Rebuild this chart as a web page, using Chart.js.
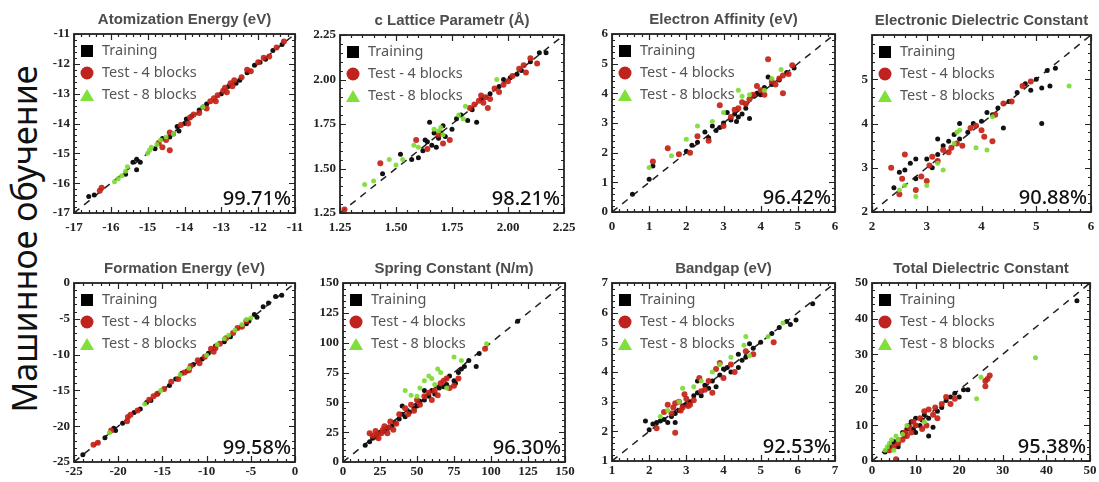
<!DOCTYPE html>
<html lang="ru">
<head>
<meta charset="utf-8">
<title>Машинное обучение</title>
<script src="https://cdn.jsdelivr.net/npm/chart.js@4.4.1/dist/chart.umd.min.js"></script>
<style>
  html, body { margin: 0; padding: 0; background: #fff; }
  body { position: relative; width: 1099px; height: 482px; overflow: hidden; }
  canvas { position: absolute; }
  #side-label {
    position: absolute; left: 24px; top: 239px;
    transform: translate(-50%, -50%) rotate(-90deg);
    font: 34px "Noto Sans", sans-serif; color: #111; white-space: nowrap; line-height: 1;
  }
</style>
</head>
<body>
<div id="side-label">Машинное обучение</div>

<script>
// ---- panel meta ----
const titles = ['Atomization Energy (eV)', 'c Lattice Parametr (Å)', 'Electron Affinity (eV)', 'Electronic Dielectric Constant',
                'Formation Energy (eV)', 'Spring Constant (N/m)', 'Bandgap (eV)', 'Total Dielectric Constant'];
const scores = ['99.71%', '98.21%', '96.42%', '90.88%', '99.58%', '96.30%', '92.53%', '95.38%'];
const axisMin = [-17, 1.25, 0, 2, -25, 0, 1, 0];
const axisMax = [-11, 2.25, 6, 6, 0, 150, 7, 50];
const axisStep = [1, 0.25, 1, 1, 5, 25, 1, 10];
const minorPerMajor = [5, 5, 5, 5, 5, 5, 5, 5];
const seriesNames = ['Training', 'Test - 4 blocks', 'Test - 8 blocks'];

// ---- points [x, y] ----
const atomTrain = [[-16.6,-16.45],[-16.45,-16.4],[-15.4,-15.3],[-15.3,-15.2],[-15.2,-15.3],[-15.3,-15.55],[-15.6,-15.7],[-14.8,-14.85],
  [-14.6,-14.5],[-14.4,-14.45],[-14.2,-14.1],[-14.0,-14.0],[-13.95,-13.85],[-13.8,-13.75],[-13.6,-13.55],[-13.5,-13.45],[-13.4,-13.35],
  [-13.0,-13.0],[-12.8,-12.75],[-12.6,-12.65],[-12.5,-12.55],[-12.3,-12.3],[-12.1,-12.05],[-11.95,-11.95],[-11.8,-11.85],[-11.6,-11.55],
  [-11.35,-11.35],[-14.3,-14.35],[-14.15,-14.25]];
const atomTest4 = [[-16.3,-16.25],[-16.25,-16.15],[-14.7,-14.65],[-14.5,-14.55],[-14.4,-14.3],[-14.1,-14.05],[-13.9,-14.0],[-13.75,-13.7],
  [-13.6,-13.65],[-13.4,-13.5],[-13.3,-13.25],[-13.2,-13.15],[-13.1,-13.05],[-12.95,-12.9],[-12.85,-12.95],[-12.75,-12.65],[-12.65,-12.55],
  [-12.45,-12.45],[-12.3,-12.2],[-12.2,-12.25],[-12.0,-11.95],[-11.85,-11.8],[-11.7,-11.75],[-11.5,-11.45],[-11.3,-11.25],[-14.6,-14.8],
  [-14.4,-14.9],[-13.85,-13.8],[-12.9,-12.8],[-12.7,-12.75],[-13.15,-13.25]];
const atomTest8 = [[-15.9,-15.95],[-15.8,-15.85],[-15.6,-15.6],[-15.7,-15.75],[-15.55,-15.45],[-15.0,-15.0],[-14.95,-14.9],[-14.9,-14.8],
  [-14.75,-14.7],[-14.65,-14.55],[-14.5,-14.45],[-14.3,-14.35],[-13.5,-13.45]];

const latTrain = [[1.44,1.47],[1.52,1.58],[1.57,1.55],[1.60,1.56],[1.62,1.60],[1.63,1.66],[1.64,1.65],[1.65,1.76],[1.66,1.63],[1.68,1.62],
  [1.69,1.67],[1.70,1.70],[1.72,1.68],[1.75,1.72],[1.77,1.78],[1.79,1.80],[1.82,1.77],[1.84,1.83],[1.86,1.76],[1.88,1.89],[1.92,1.92],
  [1.96,1.96],[1.98,2.00],[2.01,2.01],[2.04,2.03],[2.06,2.05],[2.10,2.10],[2.14,2.15],[2.17,2.15],[1.71,1.74],[1.67,1.70]];
const latTest4 = [[1.27,1.27],[1.43,1.53],[1.59,1.66],[1.64,1.61],[1.69,1.69],[1.71,1.64],[1.74,1.66],[1.83,1.84],[1.85,1.86],[1.87,1.88],
  [1.89,1.87],[1.90,1.90],[1.92,1.89],[1.94,1.95],[1.96,1.93],[1.98,1.97],[2.00,1.99],[2.02,2.02],[2.05,2.06],[2.07,2.08],[2.10,2.12],
  [2.13,2.09],[1.91,1.84],[1.88,1.91],[2.08,2.04]];
const latTest8 = [[1.36,1.41],[1.40,1.43],[1.47,1.55],[1.50,1.52],[1.53,1.55],[1.58,1.63],[1.60,1.62],[1.67,1.72],[1.69,1.71],[1.70,1.73],
  [1.78,1.80],[1.80,1.78],[1.81,1.85],[1.95,2.00],[1.71,1.69]];

const eaTrain = [[0.55,0.6],[1.0,1.1],[1.1,1.55],[2.0,2.05],[2.15,2.25],[2.3,2.35],[2.5,2.7],[2.6,2.5],[2.8,2.75],[2.9,2.85],[3.0,3.0],
  [3.2,3.1],[3.3,3.3],[3.4,3.2],[3.5,3.3],[3.6,3.5],[3.7,3.15],[3.8,3.9],[3.9,4.0],[4.0,3.95],[4.1,4.2],[4.2,4.55],[4.3,4.3],[4.5,4.45],
  [4.7,4.7],[4.9,4.85],[3.1,3.35],[2.7,2.9],[3.35,3.05]];
const eaTest4 = [[1.1,1.7],[1.5,2.15],[1.8,1.95],[2.1,2.0],[2.3,2.55],[2.6,2.4],[2.9,3.6],[3.0,2.9],[3.2,3.2],[3.3,3.45],[3.4,3.5],[3.5,3.7],
  [3.6,3.65],[3.7,3.8],[3.8,3.95],[4.0,4.1],[4.1,3.95],[4.2,5.15],[4.3,4.4],[4.4,4.3],[4.5,4.5],[4.6,4.6],[4.75,4.65],[4.85,4.95],[3.9,4.25],[4.6,4.0]];
const eaTest8 = [[1.0,1.5],[1.6,1.9],[2.0,2.45],[2.3,2.9],[2.7,3.05],[3.0,3.35],[3.4,4.1],[3.7,3.95],[4.1,4.1],[4.3,4.5],[4.55,4.8],[3.5,3.9]];

const edcTrain = [[2.4,2.55],[2.5,2.9],[2.6,2.95],[2.7,3.1],[2.8,3.2],[3.0,3.2],[3.1,3.0],[3.2,3.3],[3.3,3.5],[3.4,3.6],[3.5,3.75],[3.6,3.65],
  [3.2,3.65],[3.75,3.8],[3.85,4.0],[4.0,4.05],[4.1,4.25],[4.3,4.35],[4.4,3.9],[4.5,4.5],[4.65,4.7],[4.8,4.9],[4.9,4.75],[5.0,5.0],[5.1,4.8],
  [5.2,5.2],[5.35,5.25],[5.25,4.85],[5.1,4.0],[3.6,4.0],[2.8,2.75],[4.2,4.2]];
const edcTest4 = [[2.35,3.0],[2.5,2.4],[2.6,3.3],[2.55,2.75],[2.8,2.5],[2.9,2.8],[3.0,2.7],[3.05,3.05],[3.2,3.15],[3.3,3.4],[3.4,3.35],
  [3.55,3.55],[3.65,3.5],[3.8,3.9],[3.9,3.95],[4.0,3.85],[4.05,3.7],[4.2,3.6],[4.25,4.2],[4.4,4.45],[4.55,4.5],[4.75,4.85],[4.9,4.95],[3.1,3.25],[3.45,3.45]];
const edcTest8 = [[2.5,2.5],[2.6,2.6],[2.8,2.35],[3.0,2.6],[3.2,3.1],[3.3,2.95],[3.5,3.55],[3.6,3.85],[3.9,3.45],[4.1,3.4],[4.2,4.15],[5.6,4.85],[3.55,3.8]];

const formTrain = [[-24,-24],[-21.5,-21.6],[-20.5,-20.3],[-20.3,-20.6],[-19.5,-19.6],[-18.2,-18.1],[-17.5,-17.6],[-16.8,-16.7],[-16.3,-16.4],
  [-15.5,-15.4],[-14.2,-14.3],[-13.5,-13.4],[-12.8,-12.6],[-12.2,-12.3],[-11.5,-11.4],[-10.5,-10.6],[-9.8,-9.8],[-9.0,-8.8],[-8.0,-8.2],
  [-7.3,-7.5],[-5.5,-5.7],[-4.6,-4.4],[-3.6,-3.3],[-3.0,-2.8],[-2.2,-1.9],[-1.5,-1.7],[-4.3,-4.8],[-5.2,-5.3]];
const formTest4 = [[-22.8,-22.6],[-22.3,-22.3],[-20.8,-20.6],[-19.0,-19.3],[-18.6,-18.4],[-17.8,-17.8],[-16.0,-15.8],[-15.6,-15.5],[-14.8,-14.8],
  [-14.0,-13.8],[-13.2,-13.4],[-12.5,-12.5],[-11.8,-11.6],[-11.0,-10.8],[-10.2,-10.3],[-9.5,-9.2],[-9.2,-9.6],[-8.5,-8.5],[-7.8,-7.7],
  [-7.0,-7.0],[-6.5,-6.3],[-6.0,-6.1],[-5.5,-5.3],[-16.5,-16.3],[-10.8,-11.2],[-18.9,-18.7],[-12.0,-12.2],[-9.0,-9.1]];
const formTest8 = [[-21,-20.9],[-17,-16.9],[-15.2,-15.0],[-13.0,-12.8],[-12.0,-11.9],[-10.0,-10.1],[-8.8,-8.6],[-8.0,-7.8],[-7.5,-7.3],
  [-6.8,-6.6],[-6.0,-5.8],[-5.5,-5.1],[-5.0,-4.9]];

const springTrain = [[15,14],[18,17],[20,20],[22,21],[25,25],[28,26],[30,28],[33,30],[35,33],[38,36],[40,40],[42,38],[45,42],[48,45],[50,47],
  [52,51],[55,52],[58,55],[60,60],[62,57],[65,62],[68,63],[70,65],[72,72],[75,68],[78,75],[80,78],[82,80],[85,85],[90,80],[92,91],[118,118],
  [40,47],[55,60],[76,66]];
const springTest4 = [[18,24],[20,22],[22,26],[24,20],[26,24],[28,30],[30,24],[32,34],[34,27],[36,32],[38,40],[42,45],[44,40],[46,48],[48,43],
  [50,52],[52,48],[55,55],[58,58],[60,52],[62,60],[64,56],[66,66],[68,68],[70,70],[72,62],[78,70],[96,95],[75,64],[23,23],[27,27],[31,29]];
const springTest8 = [[42,60],[46,56],[50,55],[55,68],[58,72],[60,70],[62,65],[64,78],[66,75],[70,62],[75,88],[80,85],[97,99],[52,62]];

const gapTrain = [[1.9,2.35],[2.0,2.05],[2.1,2.25],[2.2,2.3],[2.3,2.35],[2.4,2.4],[2.5,2.3],[2.6,2.5],[2.7,2.6],[2.8,2.7],[2.9,2.85],[3.0,2.9],
  [3.1,3.0],[3.2,3.2],[3.3,3.3],[3.4,3.2],[3.5,3.55],[3.6,3.45],[3.3,3.7],[3.7,3.7],[3.8,3.5],[3.9,3.9],[4.0,4.1],[4.1,4.15],[4.2,4.0],
  [4.4,4.6],[4.5,4.4],[4.6,4.5],[4.7,4.95],[4.8,4.8],[5.0,5.0],[5.3,5.3],[5.5,5.5],[5.7,5.7],[5.8,5.6],[5.95,5.75],[6.4,6.3],[4.4,4.15],[2.7,2.3]];
const gapTest4 = [[2.2,2.1],[2.4,2.65],[2.5,2.9],[2.6,2.6],[2.7,2.95],[2.8,3.0],[2.9,2.8],[3.0,3.1],[3.1,2.9],[3.2,3.05],[3.4,3.35],[3.5,3.4],
  [3.6,3.7],[3.7,3.3],[3.8,4.1],[3.9,4.3],[4.0,3.8],[4.2,4.25],[4.3,4.0],[4.6,4.7],[4.8,4.6],[5.35,5.0],[2.7,1.95],[3.35,3.8],[2.95,3.25],
  [2.65,2.8],[2.85,2.7],[3.05,2.85]];
const gapTest8 = [[2.3,2.5],[2.5,2.7],[2.8,3.0],[2.9,3.45],[3.2,3.5],[3.4,3.7],[3.7,4.0],[3.9,4.25],[4.2,4.5],[4.6,5.2],[4.7,4.55],[5.2,5.2],
  [5.6,5.65],[4.55,4.9]];

const tdcTrain = [[3,2.5],[4,4],[4.5,5],[5,5.5],[6,6],[7,8],[7.5,7],[8,9],[8.5,10],[9,11],[9.5,9],[10,12],[11,10],[11.5,11.5],[12,13],[13,12],
  [13,7],[14,9.5],[15,14],[16,15],[17,17],[18,18],[19,19],[20,18],[21,20],[22,20],[47,45],[6,4],[10,8]];
const tdcTest4 = [[4,3],[5,4],[5.5,0.5],[6,5],[7,6],[7.5,8],[8,7],[8.5,9.5],[9,8],[9.5,11],[10,10],[11,12],[11.5,9],[12,14],[12.5,10],
  [13,14.5],[14,13],[14.5,15],[15,12],[16,16],[17,18],[18,16],[19,17.5],[26,21],[26.5,23],[27,24],[26,22.5]];
const tdcTest8 = [[3,3],[3.5,4],[4,5],[4.5,6],[5,3],[5.5,7],[6,6],[7,7.5],[8,10],[12,11],[24,17.5],[25,23.5],[37.5,29]];

const trainSets = [atomTrain, latTrain, eaTrain, edcTrain, formTrain, springTrain, gapTrain, tdcTrain];
const test4Sets = [atomTest4, latTest4, eaTest4, edcTest4, formTest4, springTest4, gapTest4, tdcTest4];
const test8Sets = [atomTest8, latTest8, eaTest8, edcTest8, formTest8, springTest8, gapTest8, tdcTest8];

// ---- layout: plot box [left, top, right, bottom] in page px ----
const boxes = [
  [74, 34, 295, 213], [340, 35, 564, 213], [612, 34, 835, 212], [872, 35, 1091, 212],
  [74, 283, 295, 462], [343, 283, 565, 462], [612, 283, 835, 461], [872, 283, 1090, 461]
];

const COLORS = { train: '#111111', test4: 'rgba(196,34,22,0.92)', test8: 'rgba(125,218,52,0.92)' };
const PAD_L = 48, PAD_T = 34, PAD_R = 14, PAD_B = 26;

// frame with inward ticks, title, legend and score
const panelDecor = {
  id: 'panelDecor',
  afterDatasetsDraw(chart, args, opts) {
    const { ctx, chartArea: a, scales: { x, y } } = chart;
    ctx.save();
    ctx.strokeStyle = '#222';
    ctx.lineWidth = 1.2;
    const n = Math.round((opts.max - opts.min) / opts.step) * opts.minor;
    for (let i = 0; i <= n; i++) {
      const v = opts.min + i * opts.step / opts.minor;
      const len = i % opts.minor === 0 ? 6 : 3;
      const px = Math.round(x.getPixelForValue(v)) + 0.5;
      const py = Math.round(y.getPixelForValue(v)) + 0.5;
      ctx.beginPath();
      ctx.moveTo(px, a.bottom); ctx.lineTo(px, a.bottom - len);
      ctx.moveTo(px, a.top); ctx.lineTo(px, a.top + len);
      ctx.moveTo(a.left, py); ctx.lineTo(a.left + len, py);
      ctx.moveTo(a.right, py); ctx.lineTo(a.right - len, py);
      ctx.stroke();
    }
    ctx.lineWidth = 1.8;
    ctx.strokeRect(a.left, a.top, a.right - a.left, a.bottom - a.top);

    // title
    ctx.fillStyle = '#4d4d4d';
    ctx.font = 'bold 15px "Liberation Sans", Arial, sans-serif';
    ctx.textAlign = 'center';
    ctx.textBaseline = 'middle';
    ctx.fillText(opts.title, (a.left + a.right) / 2, a.top - 14);

    // legend
    const rows = [a.top + 17, a.top + 39, a.top + 61];
    const mx = a.left + 13;
    ctx.fillStyle = '#000';
    ctx.fillRect(mx - 6, rows[0] - 6, 12, 12);
    ctx.fillStyle = '#c0231d';
    ctx.beginPath(); ctx.arc(mx, rows[1], 6.5, 0, Math.PI * 2); ctx.fill();
    ctx.fillStyle = '#7fe03a';
    ctx.beginPath();
    ctx.moveTo(mx, rows[2] - 6); ctx.lineTo(mx + 7, rows[2] + 6); ctx.lineTo(mx - 7, rows[2] + 6);
    ctx.closePath(); ctx.fill();
    ctx.fillStyle = '#555';
    ctx.font = '14.5px "Noto Sans", sans-serif';
    ctx.textAlign = 'left';
    seriesNames.forEach((s, i) => ctx.fillText(s, a.left + 28, rows[i]));

    // score
    ctx.fillStyle = '#111';
    ctx.font = '500 20px "Noto Sans", sans-serif';
    ctx.textAlign = 'right';
    ctx.textBaseline = 'alphabetic';
    ctx.fillText(opts.score, a.right - 4, a.bottom - 8);
    ctx.restore();
  }
};

function makePanel(i) {
  const [L, T, R, B] = boxes[i];
  const w = (R - L) + PAD_L + PAD_R;
  const h = (B - T) + PAD_T + PAD_B;
  const canvas = document.createElement('canvas');
  canvas.width = w; canvas.height = h;
  canvas.style.left = (L - PAD_L) + 'px';
  canvas.style.top = (T - PAD_T) + 'px';
  canvas.style.width = w + 'px'; canvas.style.height = h + 'px';
  document.body.appendChild(canvas);

  const min = axisMin[i], max = axisMax[i], step = axisStep[i];
  const fmt = v => (step < 1 ? v.toFixed(2) : String(v));
  const tickFont = { family: '"Liberation Serif", "DejaVu Serif", serif', size: 13, weight: 'bold' };
  const xPad = i < 4 ? 7 : 2;

  new Chart(canvas, {
    type: 'scatter',
    data: {
      datasets: [
        { label: 'diag', data: [[min, min], [max, max]], showLine: true, borderColor: '#222', borderWidth: 1.5,
          borderDash: [7, 6], pointRadius: 0, order: 10 },
        { label: seriesNames[0], data: trainSets[i], backgroundColor: COLORS.train, pointRadius: 2.5, borderWidth: 0, order: 3 },
        { label: seriesNames[1], data: test4Sets[i], backgroundColor: COLORS.test4, pointRadius: 3, borderWidth: 0, order: 2 },
        { label: seriesNames[2], data: test8Sets[i], backgroundColor: COLORS.test8, pointRadius: 2.5, borderWidth: 0, order: 1 }
      ]
    },
    options: {
      responsive: false,
      animation: false,
      devicePixelRatio: 1,
      layout: { padding: { left: 0, top: PAD_T, right: PAD_R, bottom: 0 } },
      plugins: {
        legend: { display: false },
        tooltip: { enabled: false },
        panelDecor: { min, max, step, minor: minorPerMajor[i], title: titles[i], score: scores[i] }
      },
      scales: {
        x: {
          type: 'linear', min, max,
          ticks: { stepSize: step, autoSkip: false, maxRotation: 0, padding: xPad, color: '#222', font: tickFont, callback: fmt },
          grid: { display: false, drawTicks: false },
          border: { display: false },
          afterFit(s) { s.height = PAD_B; s.paddingLeft = 0; s.paddingRight = 0; }
        },
        y: {
          type: 'linear', min, max,
          ticks: { stepSize: step, autoSkip: false, padding: 4, color: '#222', font: tickFont,
                   callback: v => (i === 3 && v === max ? '' : fmt(v)) },
          grid: { display: false, drawTicks: false },
          border: { display: false },
          afterFit(s) { s.width = PAD_L; s.paddingTop = 0; s.paddingBottom = 0; }
        }
      }
    },
    plugins: [panelDecor]
  });
}

for (let i = 0; i < titles.length; i++) makePanel(i);
</script>
</body>
</html>
